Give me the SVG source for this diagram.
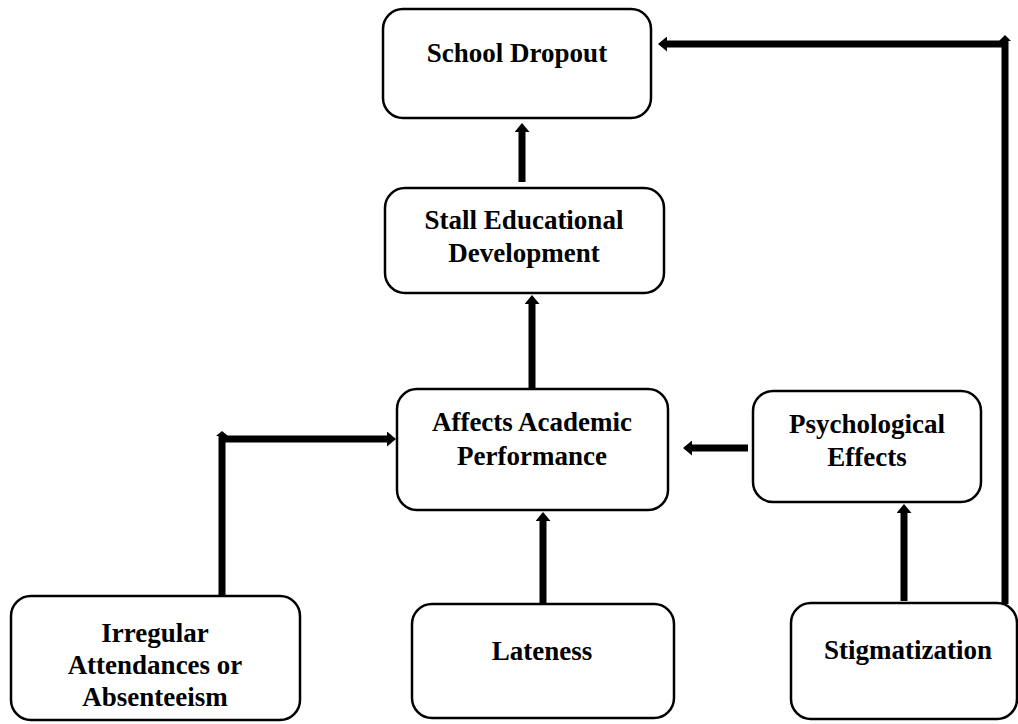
<svg xmlns="http://www.w3.org/2000/svg" width="1018" height="724" viewBox="0 0 1018 724">
  <style>
    .box { fill: #ffffff; stroke: #000000; stroke-width: 2.5; }
    .lbl { font-family: "Liberation Serif", "Times New Roman", serif; font-weight: bold; font-size: 27px; fill: #000000; text-anchor: middle; }
    .conn { fill: none; stroke: #000000; stroke-width: 7; stroke-linejoin: miter; }
  </style>
  <defs>
    <marker id="ah" viewBox="0 0 9 15" markerUnits="userSpaceOnUse" markerWidth="9" markerHeight="15" refX="0" refY="7.5" orient="auto">
      <path d="M0,0 L9,7.5 L0,15 Z" fill="#000000"/>
    </marker>
  </defs>
  <rect width="1018" height="724" fill="#ffffff"/>

  <g id="connectors">
    <line class="conn" x1="522" y1="182" x2="522" y2="132" marker-end="url(#ah)"/>
    <line class="conn" x1="532" y1="389" x2="532" y2="304" marker-end="url(#ah)"/>
    <line class="conn" x1="543" y1="604" x2="543" y2="521" marker-end="url(#ah)"/>
    <line class="conn" x1="748" y1="448" x2="692" y2="448" marker-end="url(#ah)"/>
    <line class="conn" x1="904" y1="601" x2="904" y2="513" marker-end="url(#ah)"/>
    <path class="conn" d="M222,599 V439 H387" marker-end="url(#ah)"/>
    <polygon points="216,436 222,431 228,436" fill="#000000"/>
    <path class="conn" d="M1005,604 V44 H667" marker-end="url(#ah)"/>
    <polygon points="999,41 1005,35 1011,41" fill="#000000"/>
  </g>

  <g id="node-dropout">
    <rect class="box" x="383" y="9" width="268" height="109" rx="20" ry="20"/>
    <text class="lbl" x="517" y="62">School Dropout</text>
  </g>
  <g id="node-stall">
    <rect class="box" x="385" y="188" width="279" height="105" rx="20" ry="20"/>
    <text class="lbl" x="524" y="229">Stall Educational</text>
    <text class="lbl" x="524" y="262">Development</text>
  </g>
  <g id="node-affects">
    <rect class="box" x="397" y="389" width="271" height="121" rx="20" ry="20"/>
    <text class="lbl" x="532" y="431">Affects Academic</text>
    <text class="lbl" x="532" y="465">Performance</text>
  </g>
  <g id="node-psych">
    <rect class="box" x="753" y="391" width="228" height="111" rx="20" ry="20"/>
    <text class="lbl" x="867" y="433">Psychological</text>
    <text class="lbl" x="867" y="466">Effects</text>
  </g>
  <g id="node-irregular">
    <rect class="box" x="11" y="596" width="289" height="124" rx="20" ry="20"/>
    <text class="lbl" x="155" y="642">Irregular</text>
    <text class="lbl" x="155" y="674">Attendances or</text>
    <text class="lbl" x="155" y="706">Absenteeism</text>
  </g>
  <g id="node-lateness">
    <rect class="box" x="412" y="604" width="262" height="114" rx="20" ry="20"/>
    <text class="lbl" x="542" y="660">Lateness</text>
  </g>
  <g id="node-stigma">
    <rect class="box" x="791" y="603" width="226" height="116" rx="20" ry="20"/>
    <text class="lbl" x="908" y="659">Stigmatization</text>
  </g>
</svg>
